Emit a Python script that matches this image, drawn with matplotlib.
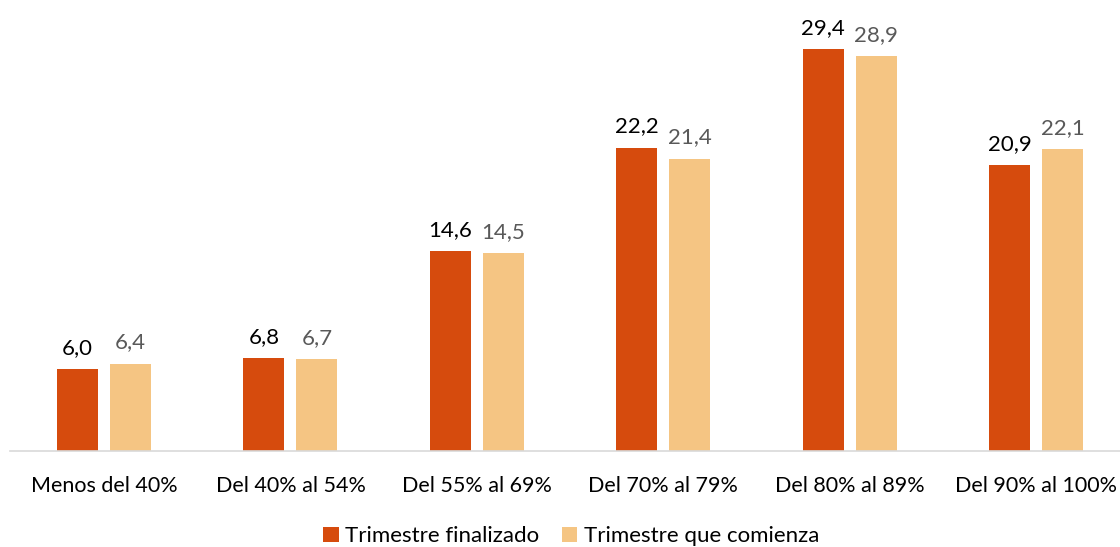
import matplotlib.pyplot as plt
import numpy as np

plt.rcParams['font.family'] = ['Lato', 'DejaVu Sans']

# 데이터
categorias = ['Menos del 40%', 'Del 40% al 54%', 'Del 55% al 69%',
              'Del 70% al 79%', 'Del 80% al 89%', 'Del 90% al 100%']
finalizado = [6.0, 6.8, 14.6, 22.2, 29.4, 20.9]
comienza = [6.4, 6.7, 14.5, 21.4, 28.9, 22.1]

c1 = '#D64B0D'
c2 = '#F5C583'

fig = plt.figure(figsize=(11.2, 5.47), dpi=100)
ax = fig.add_axes([0.009, 0.1755, 0.991, 0.8245])

x = np.arange(len(categorias))
w = 0.22
off = 0.142
b1 = ax.bar(x - off, finalizado, w, color=c1, label='Trimestre finalizado')
b2 = ax.bar(x + off, comienza, w, color=c2, label='Trimestre que comienza')

# 값 라벨
for rect, v in zip(b1, finalizado):
    ax.annotate(f'{v:.1f}'.replace('.', ','), (rect.get_x() + rect.get_width() / 2, v),
                xytext=(0, 8), textcoords='offset points', ha='center', va='bottom',
                fontsize=16, color='black')
for rect, v in zip(b2, comienza):
    ax.annotate(f'{v:.1f}'.replace('.', ','), (rect.get_x() + rect.get_width() / 2, v),
                xytext=(0, 8), textcoords='offset points', ha='center', va='bottom',
                fontsize=16, color='#595959')

ax.set_xlim(-0.504, 5.45)
ax.set_ylim(0, 33.0)
ax.set_xticks(x)
ax.set_xticklabels(categorias, fontsize=15.5)
ax.tick_params(axis='x', length=0, pad=18)
ax.set_yticks([])
for s in ['top', 'right', 'left']:
    ax.spines[s].set_visible(False)
ax.spines['bottom'].set_color('#D9D9D9')
ax.spines['bottom'].set_linewidth(1.2)

fig.legend(loc='lower center', bbox_to_anchor=(0.51, -0.035), ncol=2, frameon=False,
           fontsize=16, handlelength=0.7, handleheight=0.7, handletextpad=0.3,
           columnspacing=1.0)

plt.savefig('out.png', dpi=100)
